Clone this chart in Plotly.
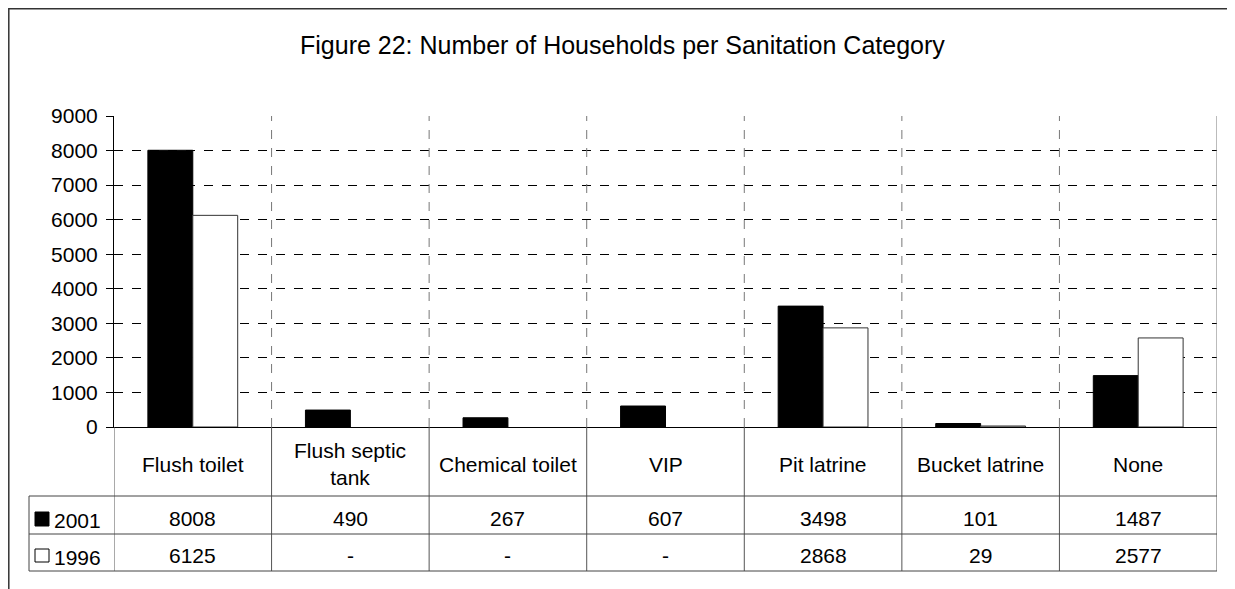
import plotly.graph_objects as go

categories = ["Flush toilet", "Flush septic<br>tank", "Chemical toilet", "VIP",
              "Pit latrine", "Bucket latrine", "None"]
series_names = ["2001", "1996"]
values_2001 = [8008, 490, 267, 607, 3498, 101, 1487]
values_1996 = [6125, None, None, None, 2868, 29, 2577]
y_ticks = [0, 1000, 2000, 3000, 4000, 5000, 6000, 7000, 8000, 9000]

# page has an 8px body margin, so the figure is 8px smaller than the window
OFF = 8
W, H = 1235 - OFF, 589 - OFF
FONT = "Liberation Sans, Arial, sans-serif"


def px(x):
    return (x - OFF) / W


def py(y):
    return 1 - (y - OFF) / H


fig = go.Figure()
fig.add_trace(go.Bar(x=categories, y=values_2001, name=series_names[0],
                     marker=dict(color="black", line=dict(color="black", width=1))))
fig.add_trace(go.Bar(x=categories, y=values_1996, name=series_names[1],
                     marker=dict(color="white", line=dict(color="#333", width=1))))

shapes = []
# outer chart border
shapes.append(dict(type="rect", xref="paper", yref="paper", x0=px(8.8), x1=px(1260),
                   y0=py(620), y1=py(8.8), line=dict(color="#333", width=1.5)))
# vertical dashed separators inside plot
for i in range(len(categories) - 1):
    shapes.append(dict(type="line", xref="x", yref="y", x0=i + 0.5, x1=i + 0.5,
                       y0=0, y1=y_ticks[-1], line=dict(color="#777", width=1, dash="dash")))
# right border of plot + table column lines
for i in range(len(categories) + 1):
    shapes.append(dict(type="line", xref="x", yref="paper", x0=i - 0.5, x1=i - 0.5,
                       y0=py(427), y1=py(571), line=dict(color="#555", width=1)))
shapes.append(dict(type="line", xref="x", yref="y", x0=len(categories) - 0.5,
                   x1=len(categories) - 0.5, y0=0, y1=y_ticks[-1],
                   line=dict(color="#777", width=1)))
# table rows
for yy in (496, 534, 571):
    shapes.append(dict(type="line", xref="paper", yref="paper", x0=px(29), x1=px(1217),
                       y0=py(yy), y1=py(yy), line=dict(color="#444", width=1)))
shapes.append(dict(type="line", xref="paper", yref="paper", x0=px(29), x1=px(29),
                   y0=py(496), y1=py(571), line=dict(color="#444", width=1)))
# legend keys
shapes.append(dict(type="rect", xref="paper", yref="paper", x0=px(35), x1=px(49),
                   y0=py(526), y1=py(512), fillcolor="black", line=dict(color="black", width=1)))
shapes.append(dict(type="rect", xref="paper", yref="paper", x0=px(35), x1=px(49),
                   y0=py(562), y1=py(549), fillcolor="white", line=dict(color="black", width=1)))


def label(text, x, y, size=21, xref="x", xanchor="center"):
    return dict(text=text, xref=xref, yref="paper", x=x, y=py(y), showarrow=False,
                xanchor=xanchor, yanchor="middle",
                font=dict(size=size, color="black", family=FONT))


annotations = [label("Figure 22: Number of Households per Sanitation Category",
                     px(622), 45, size=25, xref="paper")]
for c in categories:
    annotations.append(label(c, c, 464))
for c, v in zip(categories, values_2001):
    annotations.append(label(str(v), c, 518))
for c, v in zip(categories, values_1996):
    annotations.append(label("-" if v is None else str(v), c, 555))
for name, yy in zip(series_names, (520, 557)):
    annotations.append(label(name, px(52), yy, xref="paper", xanchor="left"))

fig.update_layout(
    width=W, height=H, autosize=False,
    margin=dict(l=0, r=0, t=0, b=0),
    paper_bgcolor="white", plot_bgcolor="white",
    showlegend=False,
    barmode="group", bargap=0.43, bargroupgap=0,
    font=dict(family=FONT, color="black", size=21),
    xaxis=dict(domain=[px(114), px(1217)], range=[-0.5, len(categories) - 0.5],
               showticklabels=False, ticks="", showgrid=False, automargin=False,
               showline=True, linecolor="black", linewidth=1),
    yaxis=dict(domain=[py(427), py(116)], range=[0, 9000], tickvals=y_ticks,
               showgrid=True, gridcolor="black", gridwidth=1, griddash="dash",
               ticks="outside", ticklen=7, tickcolor="black", automargin=False,
               ticklabelstandoff=4,
               showline=True, linecolor="black", linewidth=1,
               tickfont=dict(size=21, family=FONT), zeroline=False),
    shapes=shapes, annotations=annotations,
)

fig.write_html("out.html")
